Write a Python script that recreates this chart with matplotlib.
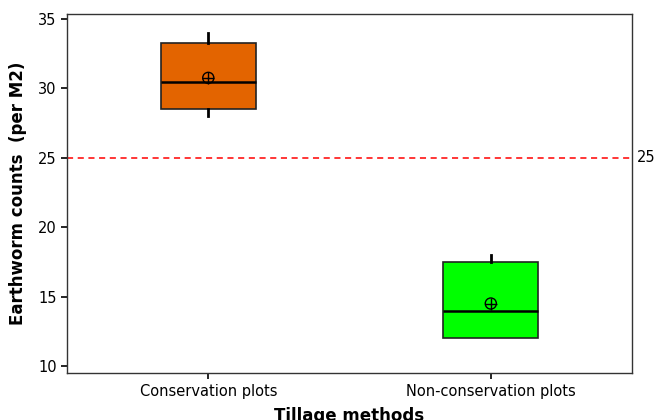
import numpy as np
import matplotlib.pyplot as plt

plt.rcParams['font.family'] = ['Verdana', 'DejaVu Sans']

# summary statistics per tillage group
groups = ["Conservation plots", "Non-conservation plots"]
q1 = [28.5, 12.0]
median = [30.45, 13.95]
q3 = [33.25, 17.5]
whisk_lo = [28.0, 12.0]
whisk_hi = [34.0, 18.0]
means = [30.75, 14.5]
colors = ["#E36400", "#00FF00"]
ref_value = 25

fig = plt.figure(figsize=(6.55, 4.2), dpi=100)
ax = fig.add_axes([0.1023, 0.112, 0.8627, 0.855])

stats = []
for i in range(len(groups)):
    stats.append({"med": median[i], "q1": q1[i], "q3": q3[i],
                  "whislo": whisk_lo[i], "whishi": whisk_hi[i],
                  "fliers": [], "label": groups[i]})

pos = np.arange(1, len(groups) + 1)
bp = ax.bxp(stats, positions=pos, widths=0.336, patch_artist=True,
            showcaps=False, showfliers=False,
            boxprops=dict(linewidth=1.2, edgecolor="#222222"),
            medianprops=dict(color="black", linewidth=1.8),
            whiskerprops=dict(color="black", linewidth=2))
for patch, c in zip(bp["boxes"], colors):
    patch.set_facecolor(c)

# mean symbol: circle with a cross
ax.scatter(pos, means, s=64, facecolors="none", edgecolors="black",
           linewidths=1.0, zorder=5)
ax.scatter(pos, means, s=64, marker="+", color="black",
           linewidths=1.0, zorder=5)

ax.axhline(ref_value, color="red", linestyle=(0, (4, 3)), linewidth=1.1)
ax.text(2.518, ref_value, str(ref_value), va="center", ha="left",
        fontsize=10.5)

ax.set_xlim(0.5, 2.5)
ax.set_ylim(9.5, 35.36)
ax.set_yticks([10, 15, 20, 25, 30, 35])
ax.set_xticks(pos)
ax.set_xticklabels(groups)
ax.tick_params(direction="out", length=4, width=1.2, labelsize=10.5)
ax.tick_params(axis="x", pad=4)

for sp in ax.spines.values():
    sp.set_linewidth(1.0)
    sp.set_color("#333333")

ax.set_xlabel("Tillage methods", fontsize=12, fontweight="bold", labelpad=6)
ax.set_ylabel("Earthworm counts  (per M2)", fontsize=12, fontweight="bold",
              labelpad=8)

fig.savefig("out.png", dpi=100)
